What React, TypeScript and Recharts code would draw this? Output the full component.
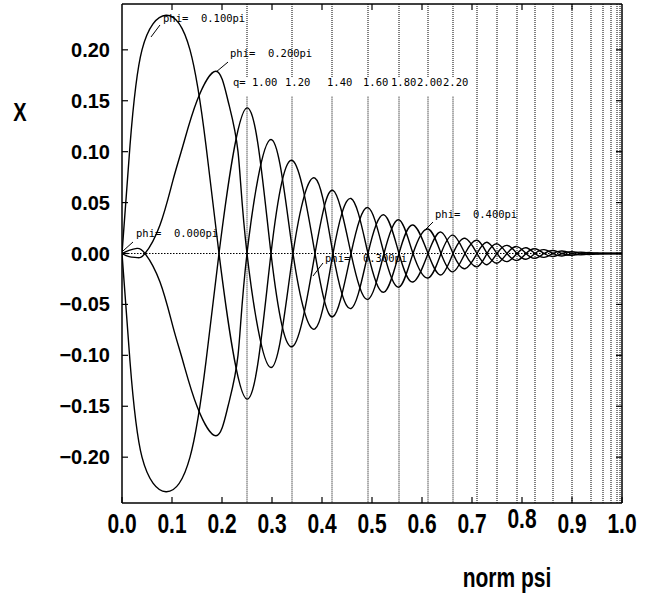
import { LineChart, Line, XAxis, YAxis, ReferenceLine, ReferenceDot } from "recharts"

// axis ticks
const xTicks = [0, 0.1, 0.2, 0.3, 0.4, 0.5, 0.6, 0.7, 0.8, 0.9, 1.0]
const yTicks = [-0.2, -0.15, -0.1, -0.05, 0, 0.05, 0.1, 0.15, 0.2]

// q = const surfaces (dotted verticals), first seven are labelled
const qValues = [1.0, 1.2, 1.4, 1.6, 1.8, 2.0, 2.2, 2.4, 2.6, 2.8, 3.0, 3.2, 3.4, 3.6, 3.8, 4.0, 4.2, 4.4]
const qPsi = [0.25, 0.34, 0.42, 0.492, 0.554, 0.612, 0.662, 0.71, 0.75, 0.79, 0.826, 0.862, 0.9, 0.938, 0.962, 0.978, 0.99, 0.996]
const qLabelPsi = [0.26, 0.326, 0.41, 0.482, 0.538, 0.59, 0.642]

// phi = 0.1pi / 0.3pi curves
const psiA = [0, 0.016, 0.04, 0.088, 0.136, 0.168, 0.194, 0.25, 0.298, 0.342, 0.386, 0.422, 0.458, 0.492, 0.524, 0.554, 0.582, 0.612, 0.638, 0.662, 0.686, 0.71, 0.73, 0.75, 0.77, 0.79, 0.808, 0.826, 0.844, 0.862, 0.88, 0.9, 0.918, 0.938, 0.95, 0.962, 0.976, 1.0]
const xPhi01 = [0, 0.106, 0.2, 0.234, 0.2, 0.106, 0, -0.143, 0, 0.091, 0, -0.062, 0, 0.045, 0, -0.033, 0, 0.024, 0, -0.018, 0, 0.013, 0, -0.0095, 0, 0.0068, 0, -0.0047, 0, 0.003, 0, -0.0018, 0, 0.0009, 0, -0.0003, 0, 0]
const xPhi03 = [0, -0.106, -0.2, -0.234, -0.2, -0.106, 0, 0.143, 0, -0.091, 0, 0.062, 0, -0.045, 0, 0.033, 0, -0.024, 0, 0.018, 0, -0.013, 0, 0.0095, 0, -0.0068, 0, 0.0047, 0, -0.003, 0, 0.0018, 0, -0.0009, 0, 0.0003, 0, 0]

// phi = 0.0pi (= 0.4pi) / 0.2pi curves
const psiB = [0, 0.014, 0.03, 0.046, 0.076, 0.102, 0.122, 0.15, 0.188, 0.212, 0.232, 0.25, 0.298, 0.342, 0.386, 0.422, 0.458, 0.492, 0.524, 0.554, 0.582, 0.612, 0.638, 0.662, 0.686, 0.71, 0.73, 0.75, 0.77, 0.79, 0.808, 0.826, 0.844, 0.862, 0.88, 0.9, 0.918, 0.938, 0.95, 0.962, 0.976, 1.0]
const xPhi02 = [0, -0.003, -0.004, 0, 0.028, 0.072, 0.106, 0.15, 0.179, 0.15, 0.1, 0, -0.112, 0, 0.074, 0, -0.054, 0, 0.038, 0, -0.028, 0, 0.021, 0, -0.015, 0, 0.011, 0, -0.008, 0, 0.0057, 0, -0.0038, 0, 0.0024, 0, -0.0013, 0, 0.0005, 0, 0, 0]
const xPhi00 = [0, 0.003, 0.005, 0, -0.028, -0.072, -0.106, -0.15, -0.179, -0.15, -0.1, 0, 0.112, 0, -0.074, 0, 0.054, 0, -0.038, 0, 0.028, 0, -0.021, 0, 0.015, 0, -0.011, 0, 0.008, 0, -0.0057, 0, 0.0038, 0, -0.0024, 0, 0.0013, 0, -0.0005, 0, 0, 0]

// curve labels and their pointer lines
const phiLabels = ["phi=  0.000pi", "phi=  0.100pi", "phi=  0.200pi", "phi=  0.300pi", "phi=  0.400pi"]
const phiLabelPsi = [0.028, 0.082, 0.216, 0.406, 0.626]
const phiLabelX = [0.0162, 0.2273, 0.193, -0.0083, 0.0349]
const arrowFrom = [[0.022, 0.0113], [0.076, 0.2244], [0.212, 0.188], [0.402, -0.0093], [0.622, 0.0309]]
const arrowTo = [[0.002, 0.0025], [0.058, 0.2126], [0.19, 0.179], [0.382, -0.0221], [0.602, 0.0211]]

const toPoints = (psi: number[], x: number[]) => psi.map((p, i) => ({ psi: p, X: x[i] }))

const axisFont = "'Liberation Sans', Arial, Helvetica, sans-serif"
const monoFont = "'DejaVu Sans Mono', 'Liberation Mono', monospace"
const Y_TOP = 0.245
const Y_BOT = -0.245
const TICK_DY = 0.006 // inward tick length on the top edge, in X units
const TICK_DX = 0.012 // inward tick length on the right edge, in psi units

const fmtY = (v: number) => (v < 0 ? "\u2212" + Math.abs(v).toFixed(2) : v.toFixed(2))

const BottomTick = (props: any) => {
  const { x, y, payload } = props
  const v = payload.value
  const lift = v === 0.8 ? -5 : 0
  return (
    <g>
      <line x1={x} x2={x} y1={y} y2={y - 6} stroke="#000" strokeWidth={1.2} />
      <text
        transform={`translate(${x},${y + 30 + lift}) scale(1,1.28)`}
        textAnchor="middle"
        fontFamily={axisFont}
        fontWeight="bold"
        fontSize={21}
        fill="#000"
      >
        {v.toFixed(1)}
      </text>
    </g>
  )
}

const LeftTick = (props: any) => {
  const { x, y, payload } = props
  return (
    <g>
      <line x1={x} x2={x + 6} y1={y} y2={y} stroke="#000" strokeWidth={1.2} />
      <text x={x - 12} y={y + 7} textAnchor="end" fontFamily={axisFont} fontWeight="bold" fontSize={20} fill="#000">
        {fmtY(payload.value)}
      </text>
    </g>
  )
}

const TextMark = (label: string, size = 10.5) => (p: any) => (
  <text x={p.cx} y={p.cy} fontFamily={monoFont} fontSize={size} fill="#000" style={{ whiteSpace: "pre" }}>
    {label}
  </text>
)

export default function App() {
  const curves = [
    { name: "phi=0.0pi", data: toPoints(psiB, xPhi00) },
    { name: "phi=0.1pi", data: toPoints(psiA, xPhi01) },
    { name: "phi=0.2pi", data: toPoints(psiB, xPhi02) },
    { name: "phi=0.3pi", data: toPoints(psiA, xPhi03) },
  ]
  const dotted = "#000"

  return (
    <div style={{ position: "absolute", left: 0, top: 0, background: "#fff" }}>
      <LineChart width={651} height={596} margin={{ top: 4, right: 29, bottom: 0, left: 0 }}>
        <XAxis
          type="number"
          dataKey="psi"
          domain={[0, 1]}
          ticks={xTicks}
          height={93}
          tickSize={0}
          tickMargin={0}
          tickLine={false}
          tick={BottomTick}
          axisLine={{ stroke: "#000", strokeWidth: 1.5 }}
          allowDataOverflow
          label={{
            value: "norm psi",
            content: (p: any) => (
              <text
                transform={`translate(${p.viewBox.x + 385},${p.viewBox.y + 84}) scale(1,1.35)`}
                textAnchor="middle"
                fontFamily={axisFont}
                fontWeight="bold"
                fontSize={21}
                fill="#000"
              >
                norm psi
              </text>
            ),
          }}
        />
        <YAxis
          type="number"
          domain={[Y_BOT, Y_TOP]}
          ticks={yTicks}
          width={122}
          tickSize={0}
          tickMargin={0}
          tickLine={false}
          tick={LeftTick}
          axisLine={{ stroke: "#000", strokeWidth: 1.5 }}
          allowDataOverflow
          label={{
            value: "X",
            content: (p: any) => (
              <text
                transform={`translate(${p.viewBox.x + 20},${p.viewBox.y + 117}) scale(1,1.25)`}
                textAnchor="middle"
                fontFamily={axisFont}
                fontWeight="bold"
                fontSize={20}
                fill="#000"
              >
                X
              </text>
            ),
          }}
        />

        {/* top and right frame with inward ticks */}
        <ReferenceLine y={Y_TOP} stroke="#000" strokeWidth={1.5} />
        <ReferenceLine x={1} stroke="#000" strokeWidth={1.5} />
        {xTicks.slice(1, -1).map((t) => (
          <ReferenceLine key={`tt${t}`} segment={[{ x: t, y: Y_TOP }, { x: t, y: Y_TOP - TICK_DY }]} stroke="#000" strokeWidth={1.2} />
        ))}
        {yTicks.map((t) => (
          <ReferenceLine key={`rt${t}`} segment={[{ x: 1, y: t }, { x: 1 - TICK_DX, y: t }]} stroke="#000" strokeWidth={1.2} />
        ))}

        <ReferenceLine y={0} stroke="#000" strokeDasharray="1.5 1.5" strokeWidth={1} />
        {qPsi.map((p, i) =>
          i < qLabelPsi.length ? (
            [
              <ReferenceLine key={`qa${i}`} segment={[{ x: p, y: Y_TOP }, { x: p, y: 0.1725 }]} stroke={dotted} strokeDasharray="1 1" />,
              <ReferenceLine key={`qb${i}`} segment={[{ x: p, y: 0.154 }, { x: p, y: Y_BOT }]} stroke={dotted} strokeDasharray="1 1" />,
            ]
          ) : (
            <ReferenceLine key={`q${i}`} x={p} stroke={dotted} strokeDasharray="1 1" />
          )
        )}

        {curves.map((c) => (
          <Line
            key={c.name}
            data={c.data}
            dataKey="X"
            type="natural"
            stroke="#000"
            strokeWidth={1.4}
            dot={false}
            isAnimationActive={false}
          />
        ))}

        <ReferenceDot x={0.222} y={0.1645} r={0} shape={TextMark("q=", 10.5)} />
        {qLabelPsi.map((p, i) => (
          <ReferenceDot key={`ql${i}`} x={p} y={0.1645} r={0} shape={TextMark(qValues[i].toFixed(2), 10.5)} />
        ))}

        {phiLabels.map((t, i) => (
          <ReferenceDot key={`pl${i}`} x={phiLabelPsi[i]} y={phiLabelX[i]} r={0} shape={TextMark(t)} />
        ))}
        {arrowFrom.map((f, i) => (
          <ReferenceLine
            key={`ar${i}`}
            segment={[{ x: f[0], y: f[1] }, { x: arrowTo[i][0], y: arrowTo[i][1] }]}
            stroke="#000"
            strokeWidth={1}
          />
        ))}
      </LineChart>
    </div>
  )
}
